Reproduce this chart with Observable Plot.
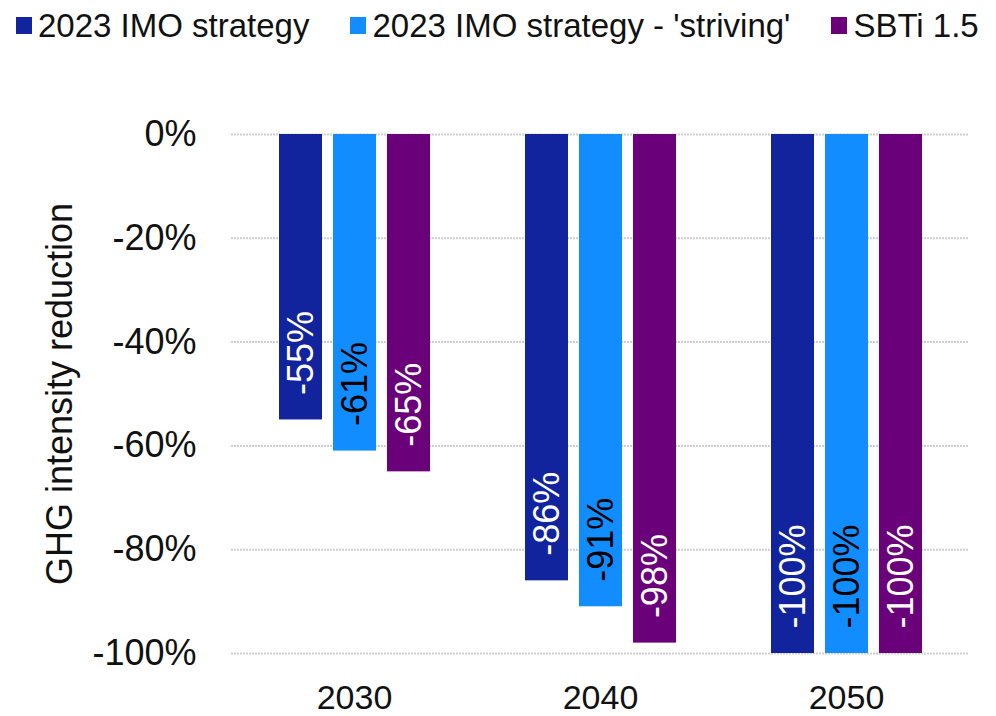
<!DOCTYPE html>
<html>
<head>
<meta charset="utf-8">
<script src="https://cdn.jsdelivr.net/npm/d3@7"></script>
<script src="https://cdn.jsdelivr.net/npm/@observablehq/plot@0.6"></script>
<style>
  body { margin: 0; background: #fff; font-family: "Liberation Sans", Arial, sans-serif; }
  #legend { height: 60px; box-sizing: border-box; padding-bottom: 10px; padding-left: 16px; display: flex; align-items: center; font-size: 33px; line-height: 33px; color: #111; white-space: nowrap; }
  #legend .item { display: flex; align-items: center; margin-right: 41px; }
  #legend .sw { width: 16px; height: 17px; margin-right: 6px; display: inline-block; }
  #chart svg { display: block; }
</style>
</head>
<body>
<div id="legend"></div>
<div id="chart"></div>
<script>
const years = ["2030", "2040", "2050"];
const series = ["2023 IMO strategy", "2023 IMO strategy - 'striving'", "SBTi 1.5"];
const colors = ["#12239E", "#118DFF", "#6B007B"];
const labelColors = ["#ffffff", "#000000", "#ffffff"];
const imo = [-55, -86, -100];
const striving = [-61, -91, -100];
const sbti = [-65, -98, -100];
const yTicks = [0, -20, -40, -60, -80, -100];
const yTitle = "GHG intensity reduction";

const valuesBySeries = [imo, striving, sbti];
const table = [];
years.forEach((yr, j) => {
  series.forEach((s, i) => {
    table.push({ year: yr, series: s, value: valuesBySeries[i][j] / 100, label: valuesBySeries[i][j] + "%" });
  });
});

// legend
const legend = document.getElementById("legend");
series.forEach((s, i) => {
  const item = document.createElement("span");
  item.className = "item";
  const sw = document.createElement("span");
  sw.className = "sw";
  sw.style.background = colors[i];
  const t = document.createElement("span");
  t.textContent = s;
  item.appendChild(sw);
  item.appendChild(t);
  legend.appendChild(item);
});

const labelMarks = series.map((s, i) =>
  Plot.text(table.filter(d => d.series === s), {
    fx: "year", x: "series", y: "value", text: "label",
    rotate: -90, textAnchor: "start", lineAnchor: "middle",
    dy: -25, fill: labelColors[i], fontSize: 36
  })
);

const plot = Plot.plot({
  width: 996,
  height: 656,
  marginLeft: 230,
  marginRight: 26,
  marginTop: 74,
  marginBottom: 63,
  style: { fontFamily: "'Liberation Sans', Arial, sans-serif", fontSize: "36px", color: "#111", background: "white" },
  fx: { domain: years, padding: 0, label: null },
  x: { domain: series, paddingInner: 0.209, paddingOuter: 0.847, axis: null },
  y: { domain: [-1, 0] },
  color: { domain: series, range: colors },
  marks: [
    Plot.ruleY(yTicks.map(d => d / 100), { stroke: "#cfcfcf", strokeWidth: 2, strokeDasharray: "2,1" }),
    Plot.barY(table, { fx: "year", x: "series", y: "value", fill: "series" }),
    ...labelMarks,
    Plot.axisY(yTicks.map(d => d / 100), {
      tickFormat: d => Math.round(d * 100) + "%",
      tickSize: 0, tickPadding: 35, fontSize: 36,
      label: yTitle, labelAnchor: "center", labelArrow: "none", labelOffset: 185
    }),
    Plot.axisFx({ anchor: "bottom", tickSize: 0, tickPadding: 31, fontSize: 34, label: null })
  ]
});
document.getElementById("chart").appendChild(plot);
</script>
</body>
</html>
